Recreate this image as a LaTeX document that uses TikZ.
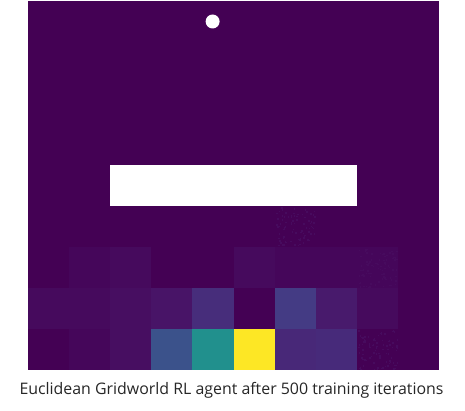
\documentclass[tikz,border=0pt]{standalone}
\usepackage{fontspec}
\setmainfont{Open Sans}
\usetikzlibrary{positioning}

\definecolor{vbase}{HTML}{440154}
\definecolor{vone}{HTML}{45065A}
\definecolor{vtwo}{HTML}{460A5D}
\definecolor{vthree}{HTML}{470E61}
\definecolor{vfour}{HTML}{481467}
\definecolor{vfive}{HTML}{481A6C}
\definecolor{vmidA}{HTML}{482878}
\definecolor{vmidB}{HTML}{472A7A}
\definecolor{vmidC}{HTML}{472D7B}
\definecolor{vmidD}{HTML}{443B84}
\definecolor{vblue}{HTML}{3B528B}
\definecolor{vteal}{HTML}{21908D}
\definecolor{vyellow}{HTML}{FDE725}
\definecolor{vnoise}{HTML}{470B5E}

\tikzset{
  cell/.style={fill=#1, draw=none},
  wall/.style={fill=white, draw=none},
  agent/.style={circle, fill=white, draw=none, inner sep=0pt, minimum size=14pt}
}

\begin{document}
\begin{tikzpicture}[x=1pt, y=-1pt]
  \useasboundingbox (0,0) rectangle (465,411);

  % background of the grid
  \fill[vbase] (28,1) rectangle (439,370);

  % value cells: col/row/colour
  \foreach \c/\r/\col in {1/6/vone, 2/6/vtwo, 5/6/vtwo, 6/6/vone, 7/6/vone, 8/6/vone,
                          0/7/vtwo, 1/7/vtwo, 2/7/vthree, 3/7/vfour, 4/7/vmidC, 6/7/vmidD, 7/7/vfive, 8/7/vtwo,
                          1/8/vone, 2/8/vthree, 3/8/vblue, 4/8/vteal, 5/8/vyellow, 6/8/vmidA, 7/8/vmidB}
    \fill[cell=\col] ({28+41.1*\c},{1+41*\r}) rectangle ({28+41.1*(\c+1)},{1+41*(\r+1)});

  % speckled cells
  \pgfmathsetseed{42}
  \foreach \c/\r in {6/5, 8/6, 8/8}
    \foreach \i in {1,...,90}
      \fill[vnoise] ({28+41.1*\c+1+39*rnd},{1+41*\r+1+39*rnd}) rectangle ++(1.5,1.5);

  % wall
  \node[wall, inner sep=0pt, minimum width=246.6pt, minimum height=41pt] (wall) at (233.5,185.5) {};

  % agent
  \node[agent] (agent) at (212.6,21.5) {};

  % caption
  \node[text=black!85, font=\fontsize{15.9}{19}\selectfont] (caption) at (231.5,390.5) {Euclidean Gridworld RL agent after 500 training iterations};
\end{tikzpicture}
\end{document}
